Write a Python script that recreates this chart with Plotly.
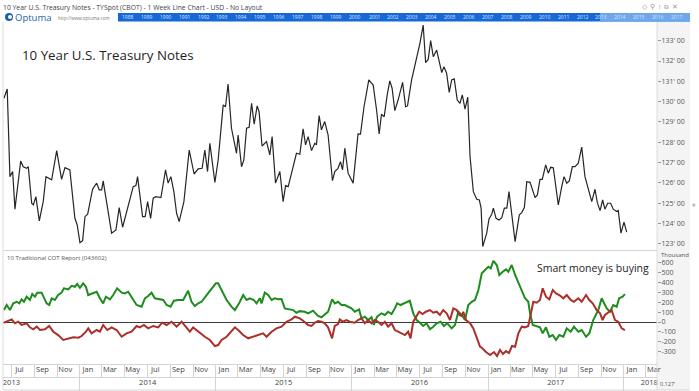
import plotly.graph_objects as go
import pandas as pd
import numpy as np

# ---------------- data (time as decimal year) ----------------
price_t = [2013.441,2013.465,2013.485,2013.505,2013.522,2013.564,2013.583,2013.608,2013.620,2013.645,2013.657,2013.676,2013.701,2013.730,2013.750,2013.792,2013.829,2013.865,2013.890,2013.926,2013.963,2013.980,2014.000,2014.020,2014.037,2014.057,2014.093,2014.123,2014.142,2014.160,2014.171,2014.208,2014.233,2014.265,2014.289,2014.314,2014.355,2014.392,2014.412,2014.424,2014.461,2014.480,2014.498,2014.520,2014.539,2014.559,2014.596,2014.630,2014.649,2014.669,2014.691,2014.711,2014.730,2014.765,2014.804,2014.840,2014.870,2014.899,2014.919,2014.939,2014.956,2014.993,2015.017,2015.054,2015.071,2015.090,2015.115,2015.152,2015.164,2015.189,2015.206,2015.226,2015.245,2015.263,2015.282,2015.304,2015.318,2015.340,2015.373,2015.397,2015.414,2015.439,2015.471,2015.495,2015.513,2015.532,2015.557,2015.593,2015.618,2015.642,2015.660,2015.679,2015.704,2015.728,2015.740,2015.760,2015.777,2015.801,2015.826,2015.858,2015.875,2015.899,2015.917,2015.932,2015.949,2015.973,2016.010,2016.029,2016.046,2016.064,2016.090,2016.125,2016.157,2016.182,2016.201,2016.218,2016.238,2016.260,2016.279,2016.296,2016.316,2016.340,2016.373,2016.395,2016.409,2016.439,2016.468,2016.500,2016.524,2016.542,2016.561,2016.579,2016.598,2016.623,2016.660,2016.676,2016.696,2016.715,2016.733,2016.752,2016.774,2016.794,2016.811,2016.831,2016.851,2016.868,2016.892,2016.917,2016.936,2016.949,2016.961,2016.990,2017.007,2017.027,2017.039,2017.059,2017.081,2017.101,2017.120,2017.138,2017.154,2017.174,2017.199,2017.230,2017.248,2017.267,2017.285,2017.309,2017.346,2017.363,2017.382,2017.399,2017.424,2017.443,2017.461,2017.480,2017.517,2017.542,2017.559,2017.579,2017.598,2017.620,2017.640,2017.664,2017.689,2017.713,2017.738,2017.763,2017.787,2017.804,2017.824,2017.843,2017.860,2017.880,2017.902,2017.921,2017.946,2017.958,2017.978,2018.000,2018.020]
price_v = [130.17,130.62,126.31,126.56,124.71,127.08,126.80,126.72,126.80,125.00,124.92,125.33,124.13,125.08,126.31,126.15,127.59,126.18,126.75,126.64,124.26,123.93,123.06,123.16,124.34,124.46,125.69,125.99,125.66,125.66,126.10,124.67,123.53,123.69,124.79,123.82,124.83,125.82,125.87,126.31,124.34,124.34,125.08,124.26,125.25,125.33,125.28,126.64,125.99,126.31,125.57,124.51,124.10,125.08,127.62,126.44,126.69,126.72,127.62,126.56,127.95,126.03,127.13,129.84,129.75,130.87,128.69,127.46,128.36,126.80,127.13,128.69,128.74,129.92,128.89,129.79,129.51,127.82,128.03,127.38,128.28,125.99,126.56,125.08,125.87,125.82,126.48,127.46,127.41,128.66,127.87,128.28,127.59,127.95,127.87,129.31,128.61,129.02,128.36,126.11,126.56,126.72,127.05,126.64,127.71,126.48,125.99,127.46,128.41,128.40,129.75,131.07,130.82,129.59,128.41,129.38,129.26,130.33,131.02,130.66,129.56,130.08,130.95,129.75,129.79,131.07,131.89,132.87,133.77,131.92,132.08,133.00,132.21,132.54,131.43,131.72,131.40,130.46,131.07,131.12,130.08,129.92,130.33,129.63,130.22,127.29,125.57,125.20,125.16,124.76,122.87,123.53,124.23,124.46,124.76,124.26,124.18,124.29,124.76,124.76,125.57,124.34,123.11,124.43,124.54,124.79,126.06,126.03,125.28,125.41,126.18,126.18,126.89,126.48,126.77,126.75,124.92,125.82,126.31,125.99,126.10,126.80,126.80,126.97,127.76,126.31,125.66,125.08,125.69,125.03,124.64,125.16,124.71,125.00,125.00,124.71,124.59,124.64,123.53,124.07,123.58]

cot_green_t = [2013.441,2013.461,2013.485,2013.510,2013.535,2013.554,2013.571,2013.588,2013.608,2013.632,2013.649,2013.669,2013.686,2013.718,2013.755,2013.774,2013.792,2013.816,2013.840,2013.865,2013.882,2013.914,2013.939,2013.963,2013.980,2014.000,2014.024,2014.044,2014.061,2014.098,2014.123,2014.147,2014.171,2014.191,2014.221,2014.245,2014.274,2014.307,2014.331,2014.355,2014.388,2014.417,2014.454,2014.478,2014.502,2014.527,2014.551,2014.576,2014.613,2014.638,2014.667,2014.691,2014.723,2014.760,2014.796,2014.821,2014.846,2014.870,2014.895,2014.932,2014.968,2015.000,2015.017,2015.042,2015.079,2015.115,2015.140,2015.171,2015.201,2015.226,2015.250,2015.279,2015.299,2015.324,2015.336,2015.360,2015.385,2015.410,2015.434,2015.458,2015.483,2015.507,2015.532,2015.568,2015.593,2015.618,2015.654,2015.679,2015.715,2015.752,2015.777,2015.801,2015.826,2015.855,2015.875,2015.899,2015.924,2015.949,2015.973,2015.998,2016.022,2016.054,2016.071,2016.096,2016.120,2016.145,2016.162,2016.186,2016.218,2016.243,2016.267,2016.292,2016.316,2016.333,2016.358,2016.390,2016.426,2016.451,2016.476,2016.500,2016.524,2016.549,2016.574,2016.598,2016.623,2016.652,2016.676,2016.701,2016.733,2016.757,2016.782,2016.807,2016.831,2016.855,2016.880,2016.904,2016.929,2016.954,2016.978,2017.002,2017.020,2017.039,2017.064,2017.083,2017.108,2017.132,2017.149,2017.174,2017.199,2017.223,2017.248,2017.272,2017.296,2017.309,2017.329,2017.358,2017.382,2017.402,2017.426,2017.451,2017.476,2017.500,2017.524,2017.554,2017.579,2017.608,2017.632,2017.664,2017.689,2017.721,2017.745,2017.774,2017.811,2017.836,2017.853,2017.873,2017.897,2017.921,2017.946,2017.965,2017.990,2018.007]
cot_green_v = [121,172,121,189,205,189,230,205,256,223,283,256,297,297,189,172,240,223,273,297,341,331,367,357,385,347,392,357,273,290,307,240,189,256,230,273,341,297,290,307,240,172,155,240,263,297,240,230,223,172,155,216,223,223,317,205,162,189,205,273,341,392,392,324,223,155,121,189,273,223,240,223,189,240,189,297,273,223,240,230,233,138,132,121,94,110,104,88,115,61,48,71,104,230,189,205,172,172,155,138,104,128,37,54,20,48,-30,54,88,71,104,81,138,189,172,196,216,88,20,-7,-40,-13,-74,-47,-13,3,-40,-13,-64,-30,104,71,20,172,205,223,324,493,526,560,543,620,577,476,509,533,509,577,476,392,307,240,205,88,-30,-40,-54,-115,-54,-149,-132,-182,-132,-149,-64,-98,-47,-98,-81,-149,-115,20,121,240,189,138,104,172,155,240,256,283]

cot_red_t = [2013.441,2013.473,2013.498,2013.522,2013.546,2013.571,2013.608,2013.632,2013.657,2013.682,2013.706,2013.743,2013.774,2013.804,2013.840,2013.877,2013.914,2013.951,2013.988,2014.013,2014.044,2014.061,2014.086,2014.123,2014.147,2014.171,2014.201,2014.233,2014.270,2014.307,2014.343,2014.380,2014.417,2014.441,2014.471,2014.502,2014.539,2014.576,2014.605,2014.638,2014.674,2014.711,2014.748,2014.785,2014.809,2014.833,2014.870,2014.919,2014.956,2014.993,2015.017,2015.042,2015.079,2015.115,2015.140,2015.164,2015.201,2015.238,2015.274,2015.311,2015.348,2015.373,2015.410,2015.446,2015.483,2015.520,2015.557,2015.581,2015.618,2015.642,2015.679,2015.704,2015.728,2015.752,2015.777,2015.801,2015.826,2015.855,2015.875,2015.899,2015.912,2015.936,2015.961,2015.985,2016.022,2016.046,2016.071,2016.096,2016.120,2016.145,2016.169,2016.193,2016.218,2016.243,2016.267,2016.292,2016.316,2016.340,2016.365,2016.390,2016.414,2016.431,2016.451,2016.476,2016.495,2016.520,2016.544,2016.574,2016.598,2016.623,2016.647,2016.671,2016.696,2016.721,2016.745,2016.770,2016.789,2016.807,2016.818,2016.838,2016.868,2016.892,2016.917,2016.941,2016.956,2016.985,2017.015,2017.044,2017.066,2017.088,2017.110,2017.132,2017.154,2017.176,2017.199,2017.223,2017.248,2017.272,2017.296,2017.309,2017.333,2017.358,2017.382,2017.402,2017.426,2017.451,2017.476,2017.500,2017.524,2017.554,2017.579,2017.608,2017.632,2017.664,2017.689,2017.721,2017.745,2017.770,2017.799,2017.824,2017.843,2017.860,2017.885,2017.909,2017.934,2017.958,2017.983,2018.007]
cot_red_v = [-7,13,27,-13,3,-30,-13,-54,-74,-47,-81,-74,-40,-98,-132,-182,-165,-155,-159,-142,-98,-64,-115,-81,-98,-30,-81,-54,-81,-149,-115,-98,-40,-54,-30,-64,-40,-54,-7,-30,3,-47,3,-64,-98,-54,-98,-149,-182,-243,-233,-182,-149,-98,-54,-81,-132,-165,-149,-132,-115,-149,-98,-64,-47,3,27,54,37,13,-30,-40,-7,10,3,-13,-54,-165,-40,-20,27,3,20,3,-7,20,37,-13,20,-13,20,3,-30,3,-47,-13,-81,-98,-115,-132,-98,-165,3,61,104,81,104,121,94,104,71,121,88,20,138,121,71,61,104,20,-13,-64,-149,-250,-263,-304,-334,-304,-344,-283,-324,-294,-314,-243,-250,-115,-47,-54,-40,54,205,196,223,341,256,230,324,290,273,240,273,223,205,240,205,273,223,189,121,88,20,71,94,121,20,3,-64,-81]

price_ticks = list(range(123, 134))
cot_ticks = [-300, -200, -100, 0, 100, 200, 300, 400, 500, 600]
year_labels = [2013, 2014, 2015, 2016, 2017, 2018]
year_label_dates = ["2013-07-01", "2014-07-02", "2015-07-02", "2016-07-01", "2017-07-02", "2018-03-10"]
scroller_years = list(range(1988, 2018))
view_start, view_end = 2013.434, 2018.243


def to_dt(ts):
    out = []
    for v in ts:
        y = int(np.floor(v))
        s = pd.Timestamp(year=y, month=1, day=1)
        e = pd.Timestamp(year=y + 1, month=1, day=1)
        out.append(s + (e - s) * (v - y))
    return out


xr = to_dt([view_start, view_end])
month_starts = pd.date_range("2013-07-01", "2018-03-01", freq="2MS")
month_text = [d.strftime("%b") for d in month_starts]
year_starts = [pd.Timestamp(year=y, month=1, day=1) for y in range(2014, 2019)]

FONT = "Open Sans"
W, H = 699, 391
ML, MR, MT, MB = 3, 42, 22, 1
PW, PH = W - ML - MR, H - MT - MB


def px(x):
    return (x - ML) / PW


def py(y):
    return (H - MB - y) / PH


fig = go.Figure()
fig.add_trace(go.Scatter(x=to_dt(price_t), y=price_v, mode="lines",
                         line=dict(color="#262626", width=1.2), xaxis="x", yaxis="y",
                         showlegend=False, hoverinfo="skip"))
fig.add_trace(go.Scatter(x=to_dt(cot_green_t), y=cot_green_v, mode="lines",
                         line=dict(color="#1e8c1e", width=2), xaxis="x2", yaxis="y2",
                         showlegend=False, hoverinfo="skip"))
fig.add_trace(go.Scatter(x=to_dt(cot_red_t), y=cot_red_v, mode="lines",
                         line=dict(color="#ab2f2b", width=2), xaxis="x2", yaxis="y2",
                         showlegend=False, hoverinfo="skip"))
fig.add_trace(go.Scatter(x=[], y=[], xaxis="x3", yaxis="y2", showlegend=False))

tickfont = dict(family=FONT, size=7, color="#555")
fig.update_layout(
    template="none",
    width=W, height=H, margin=dict(l=ML, r=MR, t=MT, b=MB, autoexpand=False),
    paper_bgcolor="white", plot_bgcolor="white", showlegend=False,
    xaxis=dict(domain=[0, 1], anchor="y", type="date", range=xr, showticklabels=False,
               showgrid=False, zeroline=False, showline=True, linecolor="#d4d4d4", ticks="",
               automargin=False),
    yaxis=dict(domain=[py(250), py(22)], anchor="x", side="right", range=[122.70, 133.92],
               tickmode="array", tickvals=price_ticks,
               ticktext=[f"{v}' 00" for v in price_ticks],
               ticks="outside", ticklen=3, tickcolor="#999", tickfont=tickfont,
               ticklabelstandoff=-1,
               showgrid=False, zeroline=False, showline=False, automargin=False),
    xaxis2=dict(domain=[0, 1], anchor="y2", type="date", range=xr, showgrid=False,
                zeroline=False, showline=True, linecolor="#d4d4d4",
                tickmode="array", tickvals=month_starts, ticktext=month_text,
                ticks="", ticklabelshift=8, ticklabelstandoff=-2,
                tickfont=dict(family=FONT, size=7.5, color="#444"), automargin=False,
                minor=dict(tickmode="array", tickvals=month_starts, ticks="outside",
                           ticklen=13, tickcolor="#d4d4d4", showgrid=False)),
    yaxis2=dict(domain=[py(364), py(251)], anchor="x2", side="right", range=[-425, 719],
                tickmode="array", tickvals=cot_ticks, ticktext=[str(v) for v in cot_ticks],
                ticks="outside", ticklen=3, tickcolor="#999", tickfont=tickfont,
                ticklabelstandoff=-1,
                showgrid=False, zeroline=True, zerolinecolor="#3a3a3a", zerolinewidth=1,
                showline=False, automargin=False),
    xaxis3=dict(overlaying="x2", anchor="free", position=py(377), type="date", range=xr,
                showgrid=False, zeroline=False, showline=True, linecolor="#d4d4d4",
                tickmode="array", tickvals=year_label_dates, ticktext=[str(y) for y in year_labels],
                ticks="", ticklabelstandoff=-2, automargin=False,
                tickfont=dict(family=FONT, size=7.5, color="#444"),
                minor=dict(tickmode="array", tickvals=year_starts, ticks="outside",
                           ticklen=13, tickcolor="#d4d4d4", showgrid=False)),
)

shapes = [
    dict(type="rect", xref="paper", yref="paper", x0=px(657), x1=px(690), y0=py(390), y1=py(22),
         fillcolor="#f4f4f4", line=dict(width=0), layer="below"),
    dict(type="line", xref="paper", yref="paper", x0=px(657), x1=px(657), y0=py(390), y1=py(22),
         line=dict(color="#dcdcdc", width=1)),
    dict(type="line", xref="paper", yref="paper", x0=px(3), x1=px(3), y0=py(390), y1=py(22),
         line=dict(color="#dcdcdc", width=1)),
    dict(type="line", xref="paper", yref="paper", x0=px(3), x1=px(690), y0=py(390), y1=py(390),
         line=dict(color="#d4d4d4", width=1)),
    dict(type="rect", xref="paper", yref="paper", x0=px(118), x1=px(690), y0=py(21.5), y1=py(13),
         fillcolor="#1668d4", line=dict(width=0)),
    dict(type="rect", xref="paper", yref="paper", x0=px(600), x1=px(690), y0=py(21.5), y1=py(13),
         fillcolor="#6ea7ec", line=dict(width=0)),
    dict(type="circle", xref="paper", yref="paper", x0=px(5), x1=px(13), y0=py(21), y1=py(13),
         fillcolor="#1b5fae", line=dict(width=0)),
    dict(type="circle", xref="paper", yref="paper", x0=px(8), x1=px(12), y0=py(19), y1=py(15),
         fillcolor="white", line=dict(width=0)),
]
fig.update_layout(shapes=shapes)

ann = []


def add_text(x, y, text, size, color="#333", xanchor="left", family=FONT):
    ann.append(dict(xref="paper", yref="paper", x=px(x), y=py(y), text=text, showarrow=False,
                    xanchor=xanchor, yanchor="middle", borderpad=0,
                    font=dict(family=family, size=size, color=color)))


add_text(2, 7, "10 Year U.S. Treasury Notes - TYSpot (CBOT) - 1 Week Line Chart - USD - No Layout", 6.8, "#444")
add_text(14, 17, "Optuma", 9.5, "#1b5fae")
add_text(57, 18, "http://www.optuma.com", 4.5, "#777")
add_text(21, 55, "10 Year U.S. Treasury Notes", 13.3, "#1e1e1e")
add_text(6, 257, "10 Traditional COT Report (043602)", 6.1, "#555")
add_text(536, 268, "Smart money is buying", 10.5, "#1e1e1e")
add_text(660, 255, "Thousand", 6, "#555")
add_text(659, 384, "0.127'", 5.5, "#555")
add_text(691, 204, "«", 7, "#666")
add_text(641, 6, "◇  ⚲  ⁞  ⧉  ✕", 6.5, "#999")
for i, yr in enumerate(scroller_years):
    add_text(393 + (yr - 2002) * 18.95, 17.2, str(yr), 5, "#d8e6ff", xanchor="center")
fig.update_layout(annotations=ann)

fig.write_html("out.html", config={"displayModeBar": False},
               post_script="document.body.style.margin='0';")
